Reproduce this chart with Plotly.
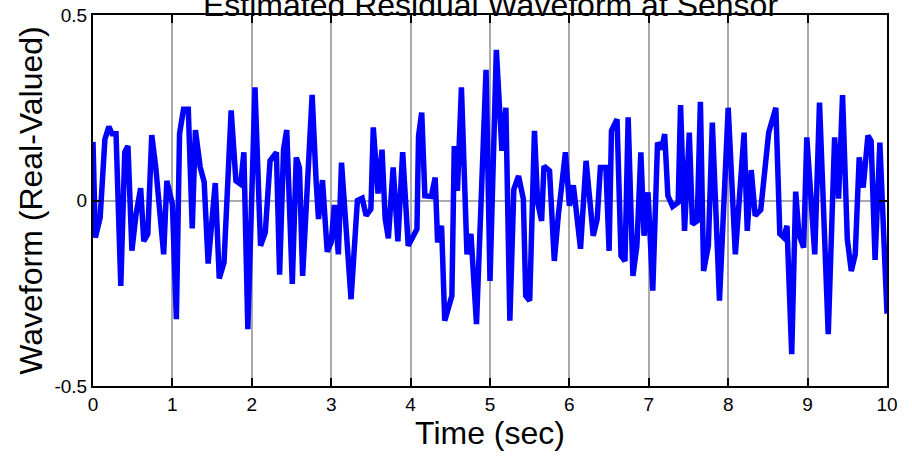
import plotly.graph_objects as go

time_sec = [0, 0.03, 0.09, 0.15, 0.2, 0.24, 0.29, 0.35, 0.40, 0.44, 0.49, 0.54, 0.60, 0.64, 0.69, 0.74, 0.79, 0.89, 0.93,
            1.0, 1.05, 1.09, 1.14, 1.2, 1.25, 1.29, 1.35, 1.4, 1.45, 1.54, 1.59, 1.65, 1.74, 1.80, 1.86, 1.9, 1.95,
            2.04, 2.11, 2.17, 2.23, 2.31, 2.35, 2.40, 2.44, 2.51, 2.56, 2.60, 2.64, 2.76, 2.81, 2.84, 2.89, 2.95,
            3.0, 3.04, 3.09, 3.13, 3.25, 3.33, 3.39, 3.44, 3.5, 3.53, 3.59, 3.64, 3.68, 3.72, 3.78, 3.84, 3.9, 3.97,
            4.08, 4.10, 4.14, 4.18, 4.26, 4.31, 4.34, 4.39, 4.43, 4.52, 4.55, 4.59, 4.64, 4.71, 4.76, 4.83, 4.95,
            5.0, 5.08, 5.15, 5.2, 5.25, 5.3, 5.36, 5.42, 5.45, 5.5, 5.56, 5.6, 5.65, 5.68, 5.75, 5.81, 5.86, 5.95,
            6.0, 6.05, 6.14, 6.21, 6.3, 6.35, 6.39, 6.46, 6.5, 6.53, 6.6, 6.65, 6.7, 6.74, 6.8, 6.85, 6.9, 6.94, 6.99,
            7.05, 7.11, 7.16, 7.2, 7.24, 7.3, 7.37, 7.4, 7.45, 7.51, 7.55, 7.61, 7.65, 7.69, 7.75, 7.8, 7.89,
            8.0, 8.09, 8.2, 8.24, 8.29, 8.34, 8.41, 8.51, 8.6, 8.65, 8.7, 8.74, 8.8, 8.85, 8.89, 8.95, 8.99,
            9.09, 9.15, 9.26, 9.34, 9.39, 9.44, 9.5, 9.55, 9.6, 9.65, 9.7, 9.76, 9.8, 9.85, 9.91, 10.0]

waveform = [0.158, -0.10, -0.046, 0.165, 0.199, 0.18, 0.18, -0.23, 0.13, 0.147, -0.135, -0.04, 0.033, -0.11, -0.09, 0.176, 0.09, -0.145, 0.053,
            -0.01, -0.32, 0.18, 0.246, 0.246, -0.075, 0.19, 0.09, 0.05, -0.17, 0.047, -0.21, -0.167, 0.243, 0.053, 0.044, 0.13, -0.347,
            0.305, -0.122, -0.086, 0.107, 0.13, -0.2, 0.138, 0.19, -0.225, 0.116, 0.089, -0.203, 0.285, 0.053, -0.05, 0.055, -0.138,
            -0.113, -0.012, -0.145, 0.102, -0.266, 0.0, 0.006, -0.041, -0.023, 0.197, 0.019, 0.137, -0.05, -0.102, 0.089, -0.11, 0.13, -0.122,
            -0.077, 0.174, 0.237, 0.013, 0.011, 0.062, -0.113, -0.068, -0.324, -0.257, 0.147, 0.026, 0.305, -0.145, -0.09, -0.333, 0.352,
            -0.217, 0.406, 0.134, 0.25, -0.324, 0.03, 0.066, 0.004, -0.257, -0.27, 0.188, -0.005, -0.055, 0.093, 0.08, -0.163, -0.041, 0.13,
            -0.014, 0.041, -0.13, 0.107, -0.095, -0.05, 0.089, 0.089, -0.136, 0.188, 0.219, -0.149, -0.163, 0.224, -0.203, -0.122, 0.13, -0.095, 0.022,
            -0.243, 0.156, 0.138, 0.179, 0.013, -0.016, -0.005, 0.257, -0.082, 0.183, -0.064, -0.055, 0.266, -0.19, -0.122, 0.21, -0.27,
            0.25, -0.145, 0.183, -0.082, 0.082, -0.041, -0.025, 0.183, 0.25, -0.09, -0.1, -0.068, -0.414, 0.024, -0.09, -0.127, 0.17,
            -0.145, 0.264, -0.36, 0.17, 0.005, 0.284, -0.104, -0.19, -0.145, 0.116, 0.035, 0.175, 0.16, -0.16, 0.156, -0.305]

x_ticks = [0, 1, 2, 3, 4, 5, 6, 7, 8, 9, 10]
x_tick_labels = ["0", "1", "2", "3", "4", "5", "6", "7", "8", "9", "10"]
y_ticks = [-0.5, 0, 0.5]
y_tick_labels = ["-0.5", "0", "0.5"]

FONT = "Liberation Sans, Arial, sans-serif"

fig = go.Figure()
fig.add_trace(go.Scatter(x=time_sec, y=waveform, mode="lines",
                         line=dict(color="#0000FF", width=5.5), showlegend=False,
                         cliponaxis=True))

axis_common = dict(showline=True, linecolor="black", linewidth=2, mirror="allticks",
                   ticks="inside", ticklen=8, tickwidth=1.5, tickcolor="black",
                   showgrid=True, gridcolor="#aaaaaa", gridwidth=1.5, zeroline=False,
                   automargin=False,
                   tickfont=dict(family=FONT, size=19, color="black"))

fig.update_layout(
    width=912, height=458,
    margin=dict(l=93, r=25, t=15, b=72),
    paper_bgcolor="white", plot_bgcolor="white",
    xaxis=dict(range=[0, 10], tickvals=x_ticks, ticktext=x_tick_labels,
               title=dict(text="Time (sec)", font=dict(family=FONT, size=32, color="black"), standoff=7),
               **axis_common),
    yaxis=dict(range=[-0.5, 0.5], tickvals=y_ticks, ticktext=y_tick_labels,
               title=dict(text="Waveform (Real-Valued)", font=dict(family=FONT, size=32, color="black"), standoff=2),
               **axis_common),
    annotations=[dict(text="Estimated Residual Waveform at Sensor", xref="paper", yref="paper",
                      x=0.5, y=1.028, xanchor="center", yanchor="middle", showarrow=False,
                      font=dict(family=FONT, size=32, color="black"))],
)

fig.write_html("out.html")
